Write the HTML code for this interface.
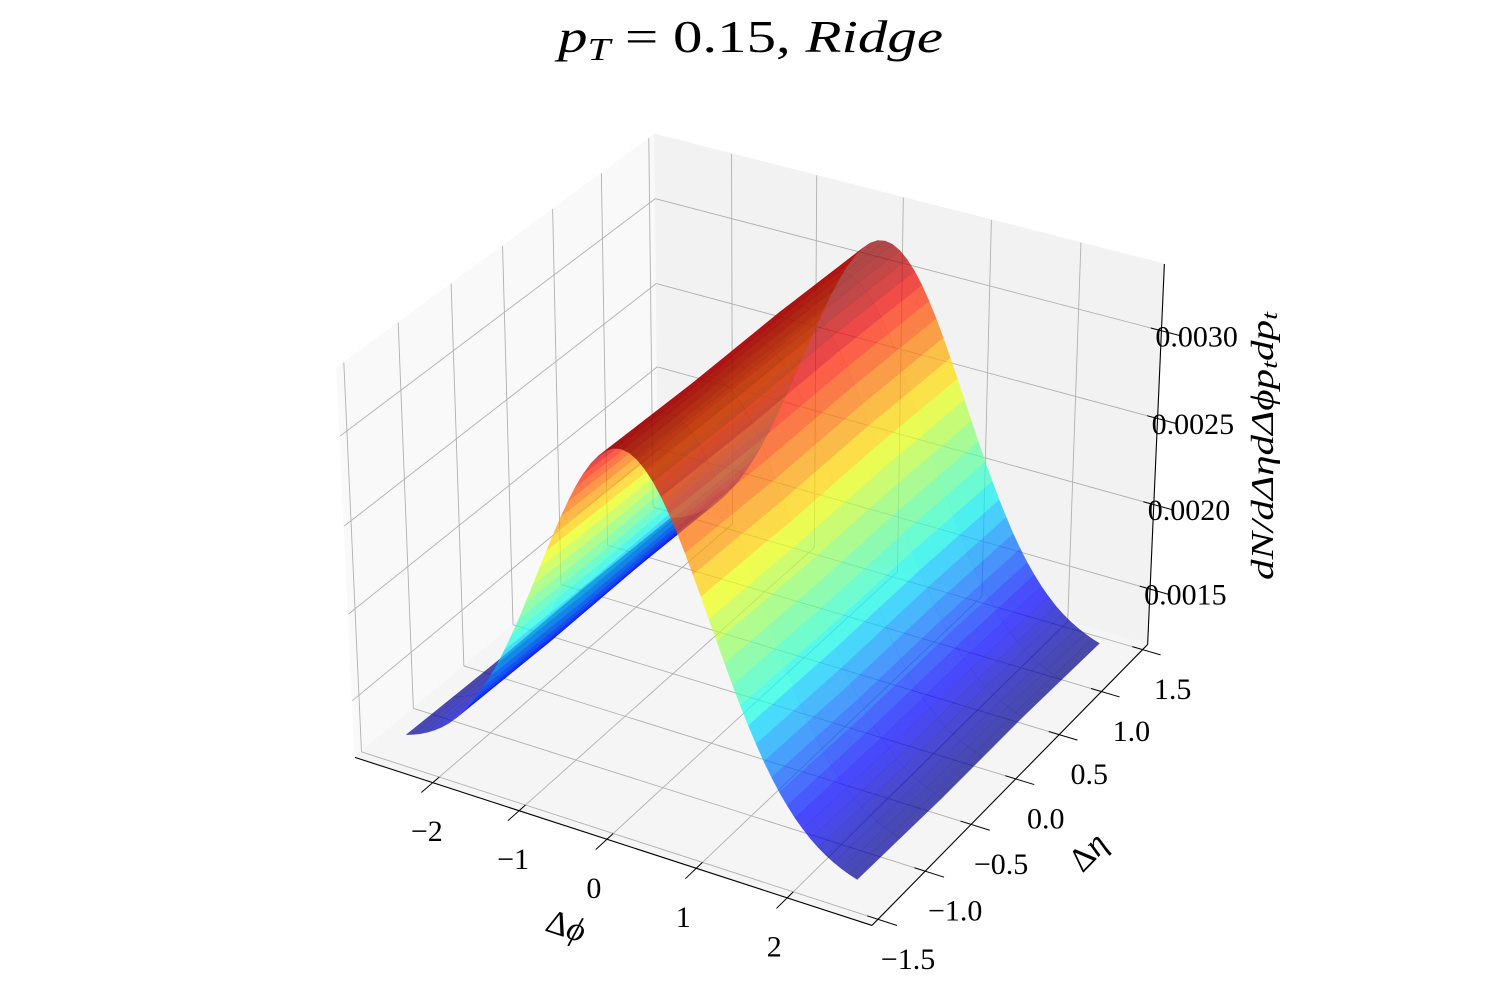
<!DOCTYPE html>
<html><head><meta charset="utf-8"><title>pT=0.15 Ridge</title>
<style>
html,body{margin:0;padding:0;background:#fff;}
svg{display:block;font-family:"Liberation Serif",serif;}
</style></head>
<body>
<svg id="chart" width="1500" height="1000" viewBox="0 0 1500 1000" xmlns="http://www.w3.org/2000/svg">
<rect x="0" y="0" width="1500" height="1000" fill="#ffffff"/>
<g id="panes"></g>
<g id="grid"></g>
<g id="axes"></g>
<g id="surface"></g>
<g id="labels"></g>
<text x="558" y="52" font-size="46" textLength="385" lengthAdjust="spacingAndGlyphs"><tspan font-style="italic">p</tspan><tspan font-style="italic" font-size="32" dy="8">T</tspan><tspan dy="-8"> = 0.15, </tspan><tspan font-style="italic">Ridge</tspan></text>
<text x="0" y="0" font-size="34" text-anchor="middle" dominant-baseline="central" transform="translate(566,926) rotate(18)"><tspan>Δ</tspan><tspan font-style="italic">ϕ</tspan></text>
<text x="0" y="0" font-size="34" text-anchor="middle" dominant-baseline="central" transform="translate(1088,852) rotate(-46)"><tspan>Δ</tspan><tspan font-style="italic">η</tspan></text>
<text x="0" y="0" font-size="32" font-style="italic" text-anchor="middle" dominant-baseline="central" textLength="268" lengthAdjust="spacingAndGlyphs" transform="translate(1262,446) rotate(-90)">dN/dΔηdΔϕp<tspan font-size="22" dy="7">t</tspan><tspan dy="-7">dp</tspan><tspan font-size="22" dy="7">t</tspan></text>
</svg>
<script>
// ---- data ----
const phiVals = [-2.55,-2.465,-2.38,-2.295,-2.21,-2.125,-2.04,-1.955,-1.87,-1.785,-1.70,-1.615,-1.53,-1.445,-1.36,-1.275,-1.19,-1.105,-1.02,-0.935,-0.85,-0.765,-0.68,-0.595,-0.51,-0.425,-0.34,-0.255,-0.17,-0.085,0,0.085,0.17,0.255,0.34,0.425,0.51,0.595,0.68,0.765,0.85,0.935,1.02,1.105,1.19,1.275,1.36,1.445,1.53,1.615,1.70,1.785,1.87,1.955,2.04,2.125,2.21,2.295,2.38,2.465,2.55];
const profileZ = [0.001256,0.001271,0.001289,0.001311,0.001337,0.001368,0.001404,0.001447,0.001495,0.001551,0.001613,0.001683,0.001760,0.001845,0.001936,0.002033,0.002135,0.002242,0.002352,0.002463,0.002574,0.002682,0.002787,0.002885,0.002975,0.003055,0.003123,0.003177,0.003217,0.003242,0.003250,0.003242,0.003217,0.003177,0.003123,0.003055,0.002975,0.002885,0.002787,0.002682,0.002574,0.002463,0.002352,0.002242,0.002135,0.002033,0.001936,0.001845,0.001760,0.001683,0.001613,0.001551,0.001495,0.001447,0.001404,0.001368,0.001337,0.001311,0.001289,0.001271,0.001256];
const etaVals = [-1.364,-0.909,-0.455,0,0.455,0.909,1.364];
const etaShift = [0.00000,-0.00001,-0.00002,-0.00002,-0.00002,-0.00003,-0.00004];
const xTicks = [-2,-1,0,1,2];
const xTickLabels = ['−2','−1','0','1','2'];
const yTicks = [-1.5,-1.0,-0.5,0,0.5,1.0,1.5];
const yTickLabels = ['−1.5','−1.0','−0.5','0.0','0.5','1.0','1.5'];
const zTicks = [0.0015,0.0020,0.0025,0.0030];
const zTickLabels = ['0.0015','0.0020','0.0025','0.0030'];
const XL = [-2.917, 2.917];
const YL = [-1.5625, 1.5625];
const ZL = [0.001167, 0.003374];

// ---- projection (elev 30, azim -60, box aspect 4:4:3) ----
const NS = 'http://www.w3.org/2000/svg';
const k = 1.8294640721620434/Math.sqrt(41);
const BA = [4*k, 4*k, 3*k];
const R = [BA[0]/2, BA[1]/2, BA[2]/2];
const el = 30*Math.PI/180, az = -60*Math.PI/180, DIST = 10;
const ps = [Math.cos(el)*Math.cos(az), Math.cos(el)*Math.sin(az), Math.sin(el)];
const eye = [R[0]+DIST*ps[0], R[1]+DIST*ps[1], R[2]+DIST*ps[2]];
const W = ps;
let U = [-W[1], W[0], 0]; const un = Math.hypot(U[0],U[1]); U = [U[0]/un, U[1]/un, 0];
const V = [W[1]*U[2]-W[2]*U[1], W[2]*U[0]-W[0]*U[2], W[0]*U[1]-W[1]*U[0]];
const OX = 758.3, OY = 511.5, S = 5185;
function P(x, y, z) {
  const p = [(x-XL[0])/(XL[1]-XL[0])*BA[0], (y-YL[0])/(YL[1]-YL[0])*BA[1], (z-ZL[0])/(ZL[1]-ZL[0])*BA[2]];
  const d = [p[0]-eye[0], p[1]-eye[1], p[2]-eye[2]];
  const X = U[0]*d[0]+U[1]*d[1]+U[2]*d[2];
  const Y = V[0]*d[0]+V[1]*d[1]+V[2]*d[2];
  const Z = -(W[0]*d[0]+W[1]*d[1]+W[2]*d[2]);
  return [OX + S*X/Z, OY - S*Y/Z, Z];
}
function jet(t) {
  t = Math.max(0, Math.min(1, t));
  function seg(pts) {
    for (let i = 0; i < pts.length-1; i++) {
      if (t <= pts[i+1][0]) { const a = pts[i], b = pts[i+1]; return a[1] + (b[1]-a[1])*(t-a[0])/(b[0]-a[0]); }
    }
    return pts[pts.length-1][1];
  }
  const r = seg([[0,0],[0.35,0],[0.66,1],[0.89,1],[1,0.5]]);
  const g = seg([[0,0],[0.125,0],[0.375,1],[0.64,1],[0.91,0],[1,0]]);
  const b = seg([[0,0.5],[0.11,1],[0.34,1],[0.65,0],[1,0]]);
  return 'rgb(' + Math.round(r*255) + ',' + Math.round(g*255) + ',' + Math.round(b*255) + ')';
}
function pts(list) { return list.map(q => q[0].toFixed(2)+','+q[1].toFixed(2)).join(' '); }
function line(parent, a, b, color, w) {
  const l = document.createElementNS(NS, 'line');
  l.setAttribute('x1', a[0].toFixed(2)); l.setAttribute('y1', a[1].toFixed(2));
  l.setAttribute('x2', b[0].toFixed(2)); l.setAttribute('y2', b[1].toFixed(2));
  l.setAttribute('stroke', color); l.setAttribute('stroke-width', w);
  parent.appendChild(l);
  return l;
}
function label(parent, x, y, txt, anchor) {
  const t = document.createElementNS(NS, 'text');
  t.setAttribute('x', x.toFixed(1)); t.setAttribute('y', y.toFixed(1));
  t.setAttribute('font-size', '30'); t.setAttribute('text-anchor', anchor);
  t.setAttribute('dominant-baseline', 'central'); t.setAttribute('fill', '#000');
  t.textContent = txt;
  parent.appendChild(t);
  return t;
}

// ---- panes ----
const panes = document.getElementById('panes');
const paneDefs = [
  ['left-pane', '#f9f9f9', [[XL[0],YL[0],ZL[0]],[XL[0],YL[1],ZL[0]],[XL[0],YL[1],ZL[1]],[XL[0],YL[0],ZL[1]]]],
  ['back-pane', '#f2f2f2', [[XL[0],YL[1],ZL[0]],[XL[1],YL[1],ZL[0]],[XL[1],YL[1],ZL[1]],[XL[0],YL[1],ZL[1]]]],
  ['floor-pane', '#f5f5f5', [[XL[0],YL[0],ZL[0]],[XL[1],YL[0],ZL[0]],[XL[1],YL[1],ZL[0]],[XL[0],YL[1],ZL[0]]]]
];
paneDefs.forEach(pd => {
  const poly = document.createElementNS(NS, 'polygon');
  poly.setAttribute('points', pts(pd[2].map(c => P(c[0],c[1],c[2]))));
  poly.setAttribute('fill', pd[1]);
  poly.setAttribute('stroke', pd[1]);
  poly.setAttribute('stroke-width', '1');
  
  
  panes.appendChild(poly);
});

// ---- gridlines ----
const grid = document.getElementById('grid');
const GC = '#b0b0b0';
xTicks.forEach(t => {
  let l = line(grid, P(t,YL[0],ZL[0]), P(t,YL[1],ZL[0]), GC, 0.9);
  
  
  l = line(grid, P(t,YL[1],ZL[0]), P(t,YL[1],ZL[1]), GC, 0.9);
  
  
});
yTicks.forEach(t => {
  let l = line(grid, P(XL[0],t,ZL[0]), P(XL[1],t,ZL[0]), GC, 0.9);
  
  
  l = line(grid, P(XL[0],t,ZL[0]), P(XL[0],t,ZL[1]), GC, 0.9);
  
  
});
zTicks.forEach(t => {
  let l = line(grid, P(XL[0],YL[0],t), P(XL[0],YL[1],t), GC, 0.9);
  
  
  l = line(grid, P(XL[0],YL[1],t), P(XL[1],YL[1],t), GC, 0.9);
  
  
});

// ---- axis lines & ticks ----
const axes = document.getElementById('axes');
const dX = XL[1]-XL[0], dY = YL[1]-YL[0];
let ax = line(axes, P(XL[0],YL[0],ZL[0]), P(XL[1],YL[0],ZL[0]), '#000', 1.1);


ax = line(axes, P(XL[1],YL[0],ZL[0]), P(XL[1],YL[1],ZL[0]), '#000', 1.1);


ax = line(axes, P(XL[1],YL[1],ZL[0]), P(XL[1],YL[1],ZL[1]), '#000', 1.1);



const labels = document.getElementById('labels');
xTicks.forEach((t, i) => {
  const tk = line(axes, P(t,YL[0]+0.02*dY,ZL[0]), P(t,YL[0]-0.035*dY,ZL[0]), '#000', 1);
  
  
  const b = P(t,YL[0],ZL[0]);
  const lb = label(labels, b[0] + (t < 0 ? -6 : -13), b[1] + 49, xTickLabels[i], 'middle');
  
  
});
yTicks.forEach((t, i) => {
  const tk = line(axes, P(XL[1]-0.02*dX,t,ZL[0]), P(XL[1]+0.035*dX,t,ZL[0]), '#000', 1);
  
  
  const b = P(XL[1],t,ZL[0]);
  const lb = label(labels, b[0] + 30, b[1] + 40, yTickLabels[i], 'middle');
  
  
});
zTicks.forEach((t, i) => {
  const tk = line(axes, P(XL[1]-0.02*dX,YL[1],t), P(XL[1]+0.035*dX,YL[1],t), '#000', 1);
  
  
  const b = P(XL[1],YL[1],t);
  const lb = label(labels, b[0] - 6, b[1] + 6, zTickLabels[i], 'start');
  
  
});

// ---- surface ----
const surf = document.getElementById('surface');
const zAt = (i, j) => profileZ[i] + etaShift[j];
let zmin = Infinity, zmax = -Infinity;
for (let i = 0; i < phiVals.length; i++) for (let j = 0; j < etaVals.length; j++) {
  const z = zAt(i, j); if (z < zmin) zmin = z; if (z > zmax) zmax = z;
}
const quads = [];
for (let i = 0; i < phiVals.length-1; i++) {
  for (let j = 0; j < etaVals.length-1; j++) {
    const c = [[i,j],[i+1,j],[i+1,j+1],[i,j+1]];
    const pr = c.map(q => P(phiVals[q[0]], etaVals[q[1]], zAt(q[0], q[1])));
    const avg = c.reduce((s, q) => s + zAt(q[0], q[1]), 0)/4;
    const depth = pr.reduce((s, q) => s + q[2], 0)/4;
    quads.push({pr: pr, avg: avg, depth: depth});
  }
}
quads.sort((a, b) => b.depth - a.depth);
quads.forEach(q => {
  const poly = document.createElementNS(NS, 'polygon');
  const col = jet((q.avg - zmin)/(zmax - zmin));
  poly.setAttribute('points', pts(q.pr));
  poly.setAttribute('fill', col);
  poly.setAttribute('fill-opacity', '0.7');
  poly.setAttribute('stroke', col);
  poly.setAttribute('stroke-opacity', '0.4');
  poly.setAttribute('stroke-width', '0.3');
  
  
  surf.appendChild(poly);
});
</script>
</body></html>
